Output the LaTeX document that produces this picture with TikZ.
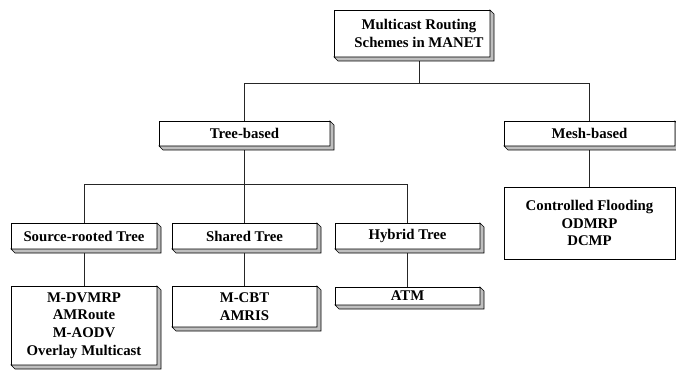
\documentclass[tikz,border=0pt]{standalone}
\usepackage{fontspec}
\setmainfont{Liberation Serif}
\usetikzlibrary{backgrounds}
\tikzset{
  box/.style={draw=black, fill=white, line width=0.8pt, inner sep=0pt, outer sep=0pt,
    align=center, font=\fontsize{14.8}{17.7}\selectfont\bfseries},
  shadowst/.style={draw=black, fill=gray!50, line width=0.6pt, line join=miter},
  conn/.style={draw=black!85, line width=0.8pt}
}
\newcommand\bevel[1]{\filldraw[shadowst] (#1.south west) -- ++(4,4) -- ([shift={(4,4)}]#1.south east) -- ([shift={(4,4)}]#1.north east) -- (#1.north east) -- (#1.south east) -- cycle;}
\begin{document}
\begin{tikzpicture}[x=1pt,y=-1pt]
\useasboundingbox (0,0) rectangle (676,371);
\node[box, minimum width=156pt, minimum height=47pt] (top) at (412,33.5) {\hspace*{14pt}Multicast Routing\\\hspace*{14pt}Schemes in MANET};
\node[box, minimum width=171pt, minimum height=25pt] (tree) at (244.5,133.5) {Tree-based};
\node[box, minimum width=171pt, minimum height=25pt] (mesh) at (589.5,133.5) {Mesh-based};
\node[box, minimum width=171pt, minimum height=72pt] (cf) at (589.5,223) {Controlled Flooding\\ODMRP\\DCMP};
\node[box, minimum width=146pt, minimum height=26pt] (src) at (84,236) {Source-rooted Tree};
\node[box, minimum width=145pt, minimum height=26pt] (shared) at (244.5,236) {Shared Tree};
\node[box, minimum width=145pt, minimum height=26pt] (hybrid) at (407.5,236) {Hybrid Tree};
\node[box, minimum width=146pt, minimum height=79pt] (srcl) at (84,325.5) {M-DVMRP\\AMRoute\\M-AODV\\Overlay Multicast};
\node[box, minimum width=145pt, minimum height=41pt] (sharedl) at (244.5,306.5) {M-CBT\\AMRIS};
\node[box, minimum width=145pt, minimum height=18pt] (hybridl) at (407.5,296) {ATM};
\coordinate (j1) at (419,83);
\coordinate (j2) at (0,184);
\begin{scope}[on background layer]
\draw[conn] (top.south -| j1) -- (j1);
\draw[conn] (tree.north) -- (tree.north |- j1) -- (mesh.north |- j1) -- (mesh.north);
\draw[conn] (mesh.south) -- (cf.north);
\draw[conn] (tree.south) -- (shared.north);
\draw[conn] (src.north) -- (src.north |- j2) -- (hybrid.north |- j2) -- (hybrid.north);
\draw[conn] (src.south) -- (srcl.north);
\draw[conn] (shared.south) -- (sharedl.north);
\draw[conn] (hybrid.south) -- (hybridl.north);
\end{scope}
\bevel{top}
\bevel{tree}
\bevel{mesh}
\bevel{src}
\bevel{shared}
\bevel{hybrid}
\bevel{srcl}
\bevel{sharedl}
\bevel{hybridl}
\end{tikzpicture}
\end{document}
